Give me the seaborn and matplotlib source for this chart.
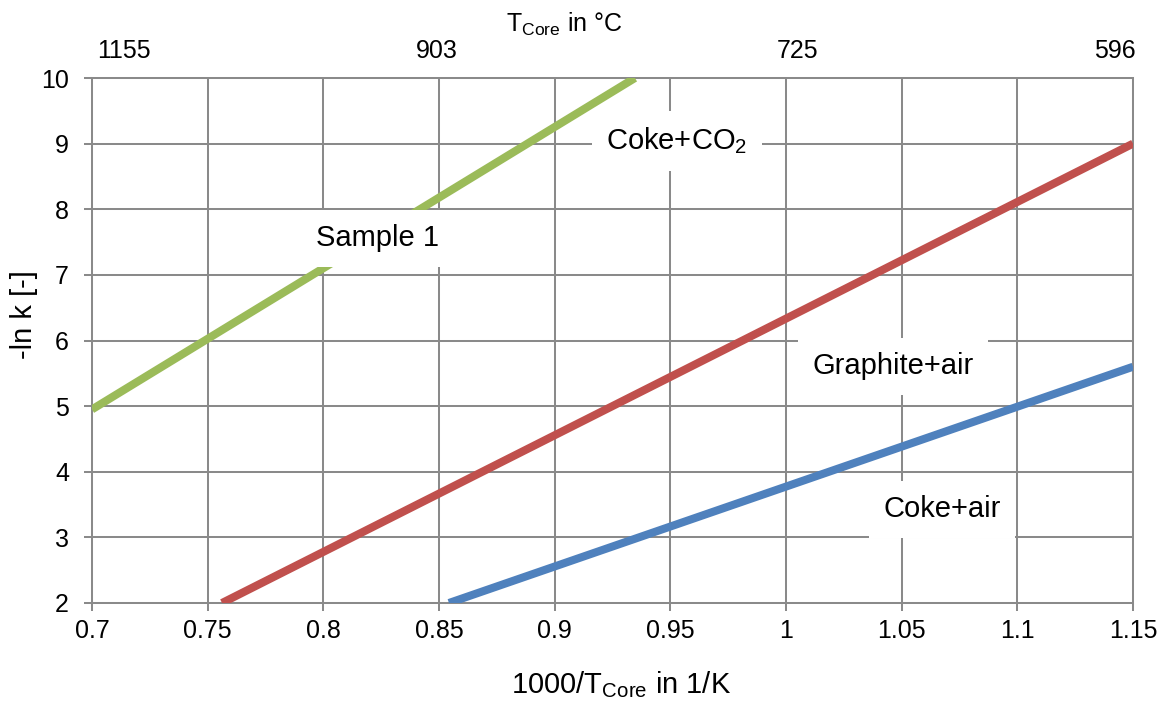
import matplotlib
matplotlib.use("Agg")
import matplotlib.pyplot as plt
import seaborn as sns
import pandas as pd

# Arrhenius fits: -ln k versus 1000/T_core (1/K)
sample1_x = [0.700, 0.9347]
sample1_y = [4.95, 10.0]
graphite_air_x = [0.7562, 1.150]
graphite_air_y = [2.0, 9.0]
coke_air_x = [0.8543, 1.150]
coke_air_y = [2.0, 5.6]

series_names = ["Sample 1", "Graphite+air", "Coke+air"]
series_colors = ["#9BBB59", "#C0504D", "#4F81BD"]

# bottom axis ticks (1000/T in 1/K) and left axis ticks (-ln k)
x_ticks = [0.70, 0.75, 0.80, 0.85, 0.90, 0.95, 1.00, 1.05, 1.10, 1.15]
y_ticks = [2, 3, 4, 5, 6, 7, 8, 9, 10]

# core temperature labels on the top axis (deg C) and where they sit on the 1000/T scale
top_labels = ["1155", "903", "725", "596"]
top_label_pos = [0.7138, 0.8491, 1.0052, 1.1422]

# text annotations inside the plot: (text, x, y)
annotations = [
    ("Sample 1", 0.8236, 7.56),
    ("Coke+CO$_\\mathregular{2}$", 0.9529, 9.04),
    ("Graphite+air", 1.0463, 5.61),
    ("Coke+air", 1.0674, 3.43),
]

frames = []
for name, xs, ys in [
    ("Sample 1", sample1_x, sample1_y),
    ("Graphite+air", graphite_air_x, graphite_air_y),
    ("Coke+air", coke_air_x, coke_air_y),
]:
    frames.append(pd.DataFrame({"x": xs, "y": ys, "series": name}))
df = pd.concat(frames, ignore_index=True)

sns.set_theme(style="white")
plt.rcParams["font.family"] = ["Liberation Sans", "DejaVu Sans"]
plt.rcParams["mathtext.fontset"] = "custom"
plt.rcParams["mathtext.rm"] = "Liberation Sans"

grid_color = "#8A8A8A"
grid_lw = 1.45

fig = plt.figure(figsize=(11.65, 7.09), dpi=100)
ax = fig.add_axes([92 / 1165, 1 - 603 / 709, 1041 / 1165, 525 / 709])

sns.lineplot(
    data=df, x="x", y="y", hue="series", hue_order=series_names,
    palette=series_colors, linewidth=5.8, legend=False, ax=ax,
    solid_capstyle="butt", zorder=3,
)

ax.set_xlim(0.70, 1.15)
ax.set_ylim(2, 10)
ax.set_xticks(x_ticks)
ax.set_xticklabels([f"{v:g}" for v in x_ticks])
ax.set_yticks(y_ticks)
ax.set_yticklabels([str(v) for v in y_ticks])

ax.grid(True, color=grid_color, linewidth=grid_lw, zorder=1)
ax.set_axisbelow(True)
for sp in ax.spines.values():
    sp.set_visible(True)
    sp.set_color(grid_color)
    sp.set_linewidth(grid_lw)

ax.tick_params(axis="x", which="major", direction="out", length=5.5, width=grid_lw,
               color=grid_color, labelsize=18, pad=6, labelcolor="black",
               bottom=True)
ax.tick_params(axis="y", which="major", direction="out", length=5.5, width=grid_lw,
               color=grid_color, labelsize=18, pad=11, labelcolor="black",
               left=True)

ax.set_xlabel("1000/T$_\\mathregular{Core}$ in 1/K", fontsize=21, color="black",
              va="baseline")
ax.xaxis.set_label_coords(0.5 + (621 - 612.5) / 1041, (603 - 693) / 525)
ax.set_ylabel("-ln k [-]", fontsize=21, color="black", va="center")
ax.yaxis.set_label_coords((24 - 92) / 1041, (603 - 315) / 525)

# secondary axis with core temperature in deg C
top = ax.twiny()
top.set_xlim(ax.get_xlim())
top.set_xticks(top_label_pos)
top.set_xticklabels(top_labels)
top.tick_params(axis="x", length=0, labelsize=18, pad=11, labelcolor="black")
for sp in top.spines.values():
    sp.set_visible(False)
top.grid(False)

fig.text(564 / 1165, 1 - 32 / 709, "T$_\\mathregular{Core}$ in °C", fontsize=18,
         ha="center", va="baseline", color="black")

for text, tx, ty in annotations:
    ax.text(tx, ty, text, fontsize=21, ha="center", va="center", color="black",
            zorder=5,
            bbox=dict(boxstyle="square,pad=0.5", facecolor="white", edgecolor="none"))

fig.savefig("out.png", dpi=100, facecolor="white")
